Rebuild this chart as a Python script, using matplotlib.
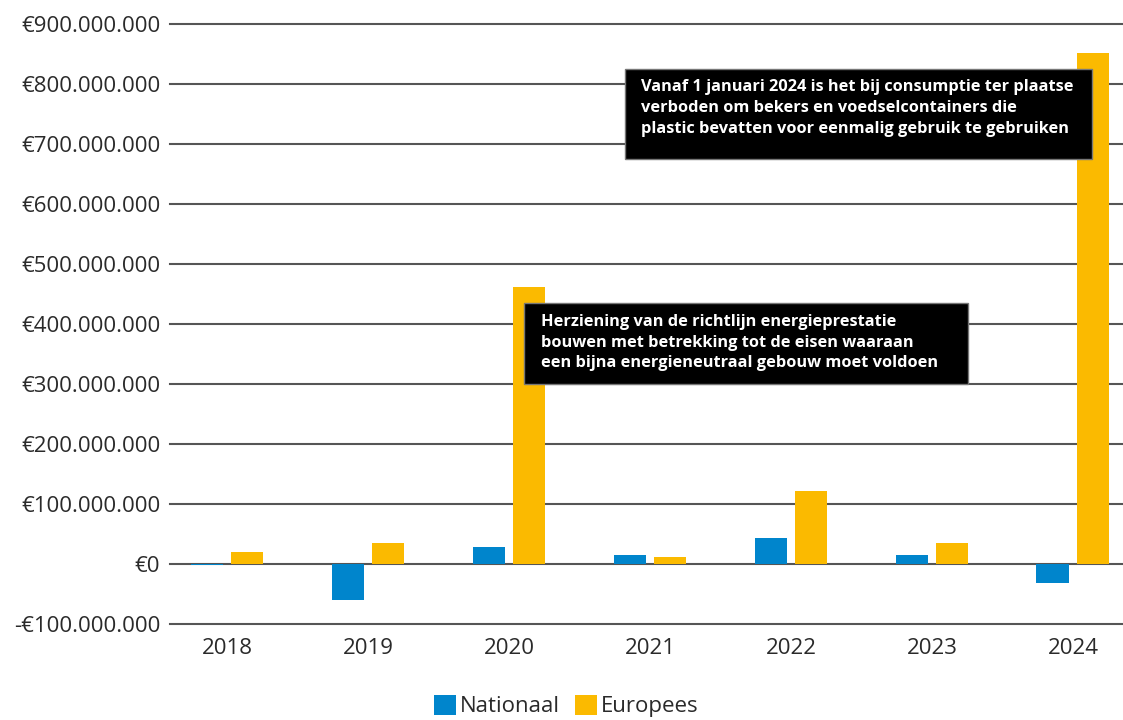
import matplotlib.pyplot as plt
from matplotlib.patches import Rectangle
from matplotlib.ticker import FuncFormatter
import numpy as np

# Data (euro)
years = ['2018', '2019', '2020', '2021', '2022', '2023', '2024']
nationaal = [-1e6, -60e6, 28e6, 15e6, 43e6, 15e6, -31e6]
europees = [20e6, 35e6, 462e6, 11e6, 122e6, 35e6, 852e6]

note_2020 = ("Herziening van de richtlijn energieprestatie\n"
             "bouwen met betrekking tot de eisen waaraan\n"
             "een bijna energieneutraal gebouw moet voldoen")
note_2024 = ("Vanaf 1 januari 2024 is het bij consumptie ter plaatse\n"
             "verboden om bekers en voedselcontainers die\n"
             "plastic bevatten voor eenmalig gebruik te gebruiken")

blue = '#0085CC'
yellow = '#FBBA00'

plt.rcParams['font.family'] = ['Open Sans', 'DejaVu Sans']

fig = plt.figure(figsize=(11.23, 7.2), dpi=100)
ax = fig.add_axes([170 / 1123, 96 / 720, 1 - 170 / 1123, 600 / 720])

x = np.arange(len(years))
w = 0.227
off = 0.145
ax.bar(x - off, nationaal, w, color=blue, zorder=3, label='Nationaal')
ax.bar(x + off, europees, w, color=yellow, zorder=3, label='Europees')

ax.set_xlim(-0.404, 6.355)
ax.set_ylim(-100e6, 900e6)
ax.set_yticks(np.arange(-100e6, 900e6 + 1, 100e6))
ax.set_xticks(x)
ax.set_xticklabels(years)


def euro(v, pos):
    if v == 0:
        return '€0'
    s = f'{abs(v):,.0f}'.replace(',', '.')
    return ('-€' if v < 0 else '€') + s


ax.yaxis.set_major_formatter(FuncFormatter(euro))
ax.grid(axis='y', color='#555555', linewidth=1.5, zorder=1)
for gl in ax.get_ygridlines():
    gl.set_clip_on(False)
for sp in ax.spines.values():
    sp.set_visible(False)
ax.tick_params(axis='both', length=0, labelsize=16, colors='#2a2a2a')
ax.tick_params(axis='y', pad=7)
ax.tick_params(axis='x', pad=10)

# annotation boxes
fig.patches.append(Rectangle((625 / 1123, 1 - 159 / 720), 467 / 1123, 90 / 720,
                             transform=fig.transFigure, facecolor='black',
                             edgecolor='#777777', linewidth=1, zorder=5))
fig.text(641 / 1123, 1 - 79 / 720, note_2024, color='white', fontsize=11.8,
         fontweight='bold', va='top', ha='left', linespacing=1.42, zorder=6)
fig.patches.append(Rectangle((524 / 1123, 1 - 384 / 720), 444 / 1123, 81 / 720,
                             transform=fig.transFigure, facecolor='black',
                             edgecolor='#777777', linewidth=1, zorder=5))
fig.text(541 / 1123, 1 - 314 / 720, note_2020, color='white', fontsize=11.8,
         fontweight='bold', va='top', ha='left', linespacing=1.38, zorder=6)

fig.legend(loc='center', bbox_to_anchor=(566 / 1123, 1 - 706 / 720), ncol=2,
           frameon=False, fontsize=16, handlelength=1.0, handleheight=1.0,
           handletextpad=0.15, columnspacing=0.7, labelcolor='#2a2a2a')

fig.savefig('out.png', dpi=100)
